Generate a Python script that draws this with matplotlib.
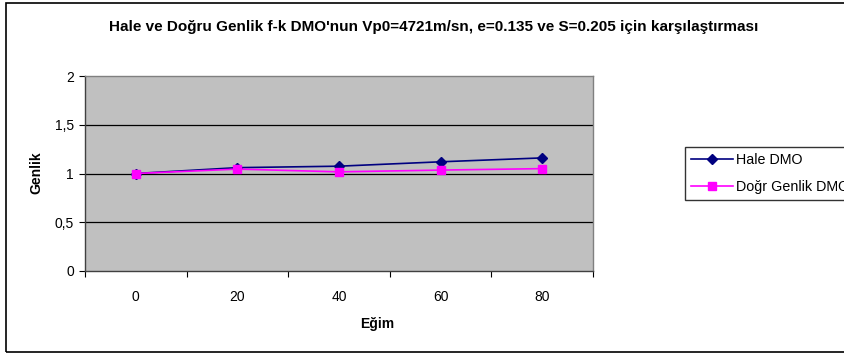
import matplotlib
matplotlib.use("Agg")
import matplotlib.pyplot as plt
from matplotlib.patches import Rectangle

categories = ["0", "20", "40", "60", "80"]
hale = [1.0, 1.06, 1.075, 1.12, 1.16]
dogru = [1.0, 1.045, 1.017, 1.035, 1.05]
yticks = [0, 0.5, 1, 1.5, 2]
ytick_labels = ["0", "0,5", "1", "1,5", "2"]

plt.rcParams['font.family'] = ['Liberation Sans', 'DejaVu Sans']

W, H = 844, 354
fig = plt.figure(figsize=(W/100, H/100), dpi=100)
fig.patch.set_facecolor("white")

# outer chart border (extends past right edge)
fig.patches.append(Rectangle((6/W, 1 - 352/H), 2.0, (352-3)/H, transform=fig.transFigure,
                             fill=False, edgecolor="black", linewidth=1.2, zorder=0))

ax = fig.add_axes([85/W, 1 - 271/H, 508/W, (271-76)/H])
ax.set_facecolor("#C0C0C0")
x = list(range(len(categories)))
ax.plot(x, hale, color="#000080", marker="D", markersize=5.5, linewidth=1.2, label="Hale DMO", zorder=3)
ax.plot(x, dogru, color="#FF00FF", marker="s", markersize=6, linewidth=1.2, label="Doğr Genlik DMO", zorder=4)

ax.set_xlim(-0.5, 4.5)
ax.set_ylim(0, 2)
ax.set_yticks(yticks)
ax.set_yticklabels(ytick_labels, fontsize=10)
ax.set_xticks([i + 0.5 for i in range(-1, 5)], minor=False)
ax.set_xticklabels([])
ax.set_xticks(x, minor=True)
ax.set_xticklabels(categories, minor=True, fontsize=10)
ax.tick_params(axis="x", which="minor", length=0, pad=14)
ax.tick_params(axis="x", which="major", length=4, direction="out", color="black")
ax.tick_params(axis="y", length=4, direction="out", pad=4, color="black")
for yv in [0.5, 1, 1.5]:
    ax.axhline(yv, color="black", linewidth=0.9, zorder=1)
for s in ["top", "right"]:
    ax.spines[s].set_color("#808080")
ax.spines["left"].set_color("#404040")
ax.spines["bottom"].set_color("#404040")
for s in ax.spines.values():
    s.set_linewidth(1.0)

fig.text(434/W, 1 - 27/H, "Hale ve Doğru Genlik f-k DMO'nun Vp0=4721m/sn, e=0.135 ve S=0.205 için karşılaştırması",
         ha="center", va="center", fontsize=11, fontweight="bold")
fig.text(36/W, 1 - 173/H, "Genlik", ha="center", va="center", rotation=90, fontsize=10, fontweight="bold")
fig.text(377/W, 1 - 324/H, "Eğim", ha="center", va="center", fontsize=10, fontweight="bold")

leg = fig.legend(loc="upper left", bbox_to_anchor=(685/W, 1 - 147/H), fontsize=10.3,
                 frameon=True, fancybox=False, borderaxespad=0, handlelength=2.9,
                 handletextpad=0.25, borderpad=0.45, labelspacing=0.85)
leg.get_frame().set_edgecolor("black")
leg.get_frame().set_linewidth(1.0)

fig.savefig("out.png", dpi=100)
